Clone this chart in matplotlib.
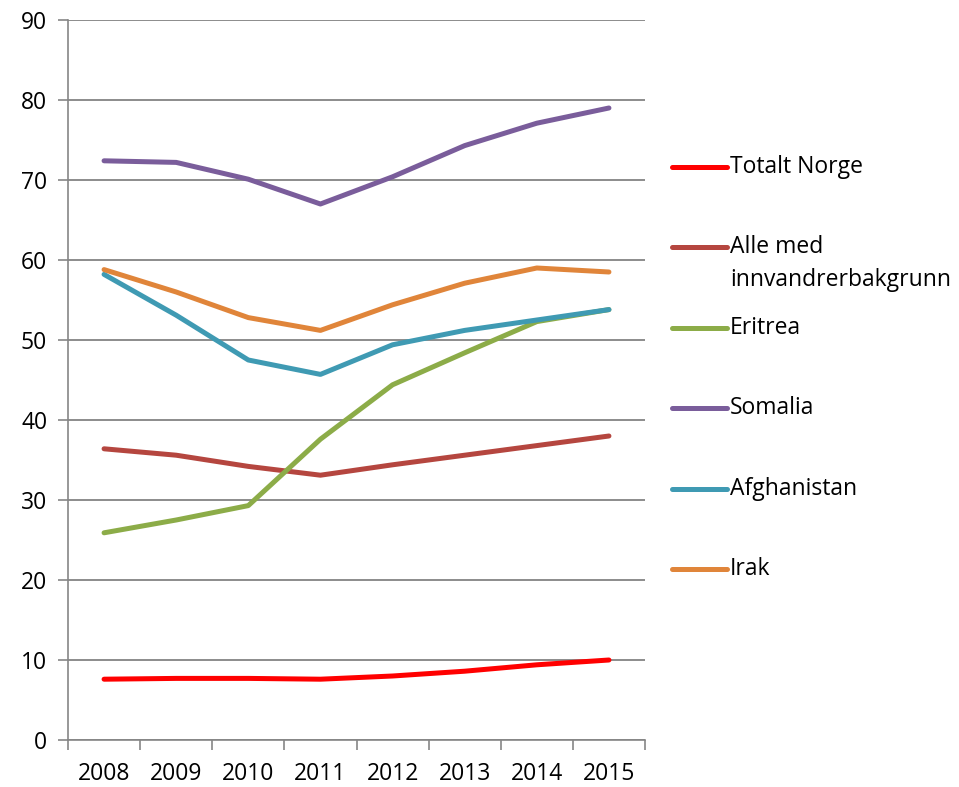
import numpy as np
import matplotlib.pyplot as plt
from matplotlib.lines import Line2D

years = ['2008', '2009', '2010', '2011', '2012', '2013', '2014', '2015']
totalt_norge = [7.6, 7.7, 7.7, 7.6, 8.0, 8.6, 9.4, 10.0]
alle_med = [36.4, 35.6, 34.2, 33.1, 34.4, 35.6, 36.8, 38.0]
eritrea = [25.9, 27.5, 29.3, 37.6, 44.4, 48.4, 52.3, 53.8]
somalia = [72.4, 72.2, 70.1, 67.0, 70.4, 74.3, 77.1, 79.0]
afghanistan = [58.2, 53.1, 47.5, 45.7, 49.4, 51.2, 52.5, 53.8]
irak = [58.8, 56.0, 52.8, 51.2, 54.4, 57.1, 59.0, 58.5]

labels = ['Totalt Norge', 'Alle med\ninnvandrerbakgrunn', 'Eritrea',
          'Somalia', 'Afghanistan', 'Irak']
colors = ['#FF0000', '#B5463F', '#8CAC48', '#7A5D9B', '#3F9AB3', '#E0853A']
series = [totalt_norge, alle_med, eritrea, somalia, afghanistan, irak]

plt.rcParams['font.family'] = ['Open Sans', 'DejaVu Sans']
FS = 16.5

W, H = 959, 787
fig = plt.figure(figsize=(W / 100, H / 100), dpi=100)
ax = fig.add_axes([68 / W, 1 - 740 / H, (645 - 68) / W, (740 - 20) / H])

x = np.arange(len(years))
for vals, c in zip(series, colors):
    ax.plot(x, vals, color=c, lw=3.6, solid_capstyle='round', zorder=3)

ax.set_xlim(-0.5, len(years) - 0.5)
ax.set_ylim(0, 90)
ax.set_yticks(range(0, 91, 10))
ax.set_xticks(x)
ax.set_xticklabels(years)
ax.set_xticks(np.arange(-0.5, len(years), 1), minor=True)
ax.tick_params(axis='x', which='major', length=0, pad=16, labelsize=FS)
ax.tick_params(axis='x', which='minor', length=7, color='#868686', width=1.2)
ax.tick_params(axis='y', length=7, color='#868686', width=1.2, pad=8, labelsize=FS)
ax.grid(axis='y', color='#8C8C8C', lw=1.4, zorder=1)
for s in ['top', 'right']:
    ax.spines[s].set_visible(False)
for s in ['left', 'bottom']:
    ax.spines[s].set_color('#868686')
    ax.spines[s].set_linewidth(1.2)

# legend drawn by hand to keep the even spacing
leg_y = [167, 247, 328, 408, 489, 569]
for lab, c, yy in zip(labels, colors, leg_y):
    yf = 1 - yy / H
    fig.add_artist(Line2D([672 / W, 727 / W], [yf, yf], color=c, lw=3.6,
                          solid_capstyle='round', transform=fig.transFigure))
    first = lab.split('\n')[0]
    fig.text(730 / W, yf, first, fontsize=FS, va='center', ha='left')
    if '\n' in lab:
        fig.text(730 / W, 1 - (yy + 33) / H, lab.split('\n')[1], fontsize=FS,
                 va='center', ha='left')

plt.savefig('out.png', dpi=100)
